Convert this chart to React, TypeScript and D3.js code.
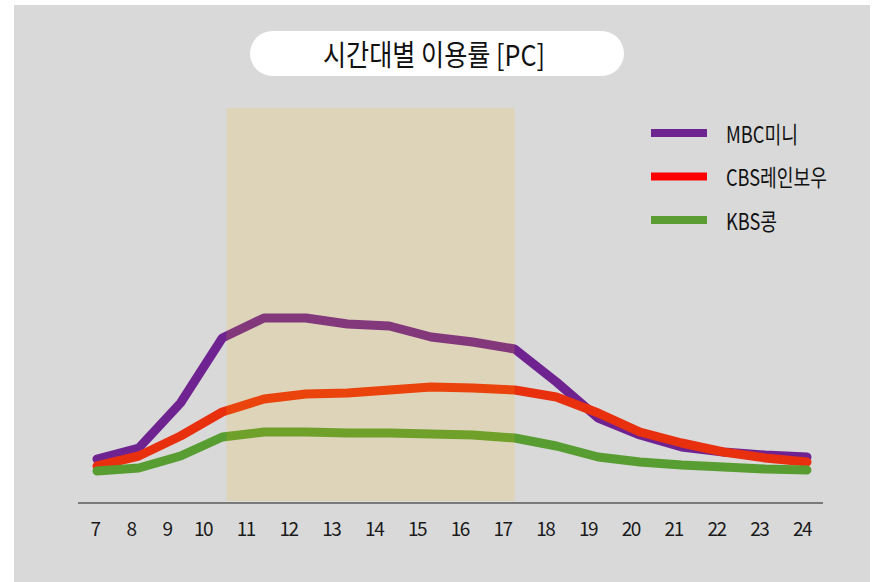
import React from "react";
import * as d3 from "d3";

const hours = [7, 8, 9, 10, 11, 12, 13, 14, 15, 16, 17, 18, 19, 20, 21, 22, 23, 24];
const mbcMini = [11, 13.75, 25, 41.25, 46.25, 46.25, 44.75, 44.25, 41.5, 40.25, 38.5, 30.25, 21.25, 17, 14, 12.75, 12, 11.5];
const cbsRainbow = [9.25, 11.75, 16.75, 22.75, 26, 27.25, 27.5, 28.25, 29, 28.75, 28.25, 26.5, 22.5, 17.75, 15, 12.75, 11.25, 10.25];
const kbsKong = [8, 8.75, 11.75, 16.5, 17.75, 17.75, 17.5, 17.5, 17.25, 17, 16.25, 14.25, 11.5, 10.25, 9.5, 9, 8.5, 8.25];
const seriesNames = ["MBC미니", "CBS레인보우", "KBS콩"];
const tickLabels = ["7", "8", "9", "10", "11", "12", "13", "14", "15", "16", "17", "18", "19", "20", "21", "22", "23", "24"];
const titleText = "시간대별 이용률 [PC]";
const shadeRange = [10.1, 17];

const FONT = "'Noto Sans CJK KR', 'Noto Sans', sans-serif";

export default function App() {
  const W = 877, H = 582;
  const x = d3.scaleLinear().domain([7, 24]).range([97, 807]);
  const xLabel = d3.scaleLinear().domain([7, 10, 24]).range([95, 203, 802]);
  const y = d3.scaleLinear().domain([0, 100]).range([503, 103]);
  const line = d3.line<number>().x((_, i) => x(hours[i])).y((d) => y(d));

  const series = [
    { name: seriesNames[0], values: mbcMini, color: "#6f2391", legend: "#6e2490", tl: 72 },
    { name: seriesNames[1], values: cbsRainbow, color: "#e8300f", legend: "#ff0000", tl: 101 },
    { name: seriesNames[2], values: kbsKong, color: "#589d32", legend: "#5b9c33", tl: 51 },
  ];

  return (
    <svg width={W} height={H} style={{ position: "absolute", left: 0, top: 0, display: "block" }}>
      <rect x={0} y={0} width={W} height={H} fill="#ffffff" />
      <rect x={14} y={5} width={856} height={H - 5} fill="#d9d9d9" />
      {/* title */}
      <rect x={250} y={31} width={374} height={45} rx={22.5} ry={22.5} fill="#ffffff" />
      <text
        x={434}
        y={66}
        textAnchor="middle"
        fontFamily={FONT}
        fontSize={29}
        fill="#111"
        textLength={222}
        lengthAdjust="spacingAndGlyphs"
      >
        {titleText}
      </text>
      {/* lines */}
      {series.map((s) => (
        <path
          key={s.name}
          d={line(s.values) || ""}
          fill="none"
          stroke={s.color}
          strokeWidth={9}
          strokeLinecap="round"
          strokeLinejoin="bevel"
        />
      ))}
      {/* shaded period */}
      <rect
        x={x(shadeRange[0])}
        y={108}
        width={x(shadeRange[1]) - x(shadeRange[0])}
        height={393}
        fill="#ffb800"
        fillOpacity={0.14}
      />
      {/* axis */}
      <line x1={78} x2={823} y1={503} y2={503} stroke="#7a7a7a" strokeWidth={2} />
      {tickLabels.map((t, i) => (
        <text
          key={t}
          x={xLabel(hours[i])}
          y={536}
          textAnchor="middle"
          fontFamily={FONT}
          fontSize={19}
          letterSpacing={-1.5}
          fill="#1a1a1a"
        >
          {t}
        </text>
      ))}
      {/* legend */}
      {series.map((s, i) => (
        <g key={s.name} transform={`translate(0, ${133 + i * 43.5})`}>
          <line x1={651} x2={707} y1={0} y2={0} stroke={s.legend} strokeWidth={8} />
          <text
            x={726}
            y={9.5}
            fontFamily={FONT}
            fontSize={23}
            fill="#111"
            textLength={s.tl}
            lengthAdjust="spacingAndGlyphs"
          >
            {s.name}
          </text>
        </g>
      ))}
    </svg>
  );
}
